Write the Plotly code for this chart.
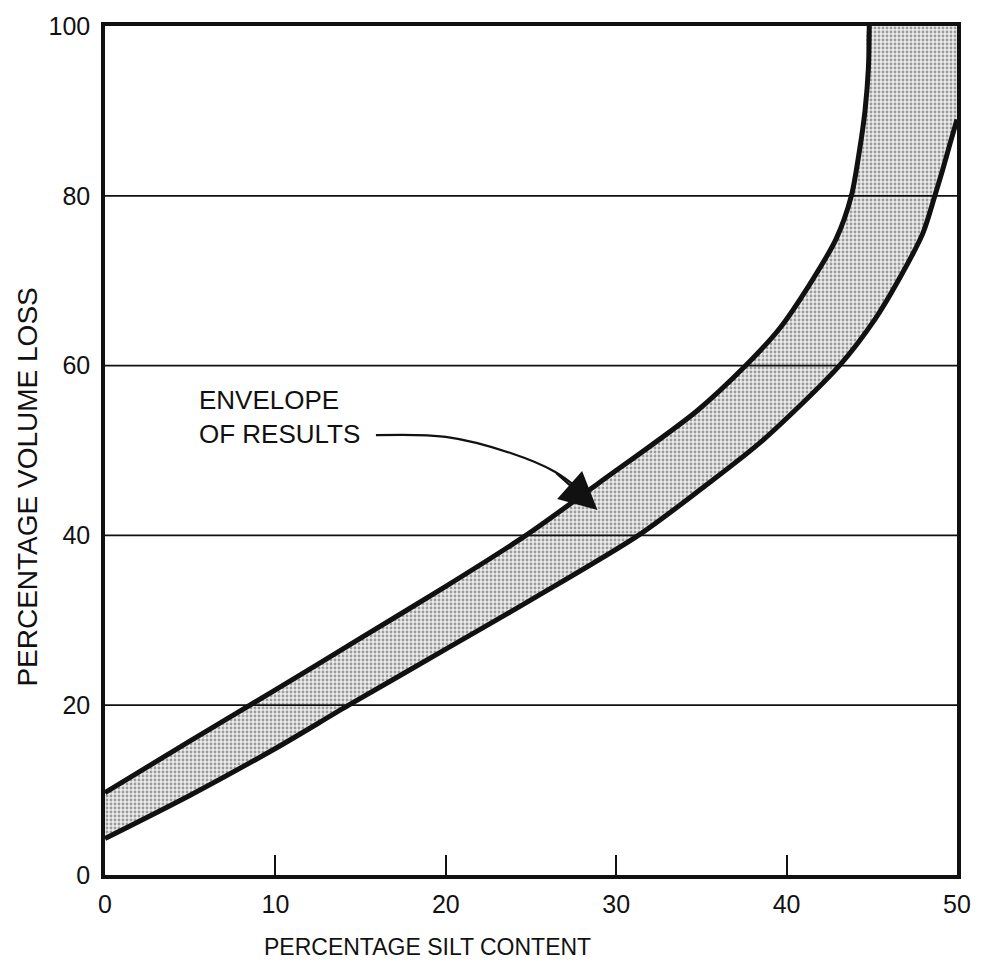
import plotly.graph_objects as go

# Envelope boundaries (percentage silt content, percentage volume loss)
upper_x = [0, 5, 10, 15, 20, 24.7, 29.0, 34.7, 37.6, 39.6, 41.3, 42.9, 43.8, 44.25, 44.6, 44.8, 44.85]
upper_y = [9.7, 15.8, 21.8, 27.9, 34.0, 40.0, 46.2, 54.6, 60.0, 64.4, 69.4, 74.9, 80.0, 85.0, 90.0, 95.0, 100.0]
lower_x = [0, 5, 10, 14.3, 20, 25, 31.3, 35.0, 38.6, 43.1, 45.2, 46.8, 48.0, 48.7, 49.15, 49.6, 50.0]
lower_y = [4.3, 9.4, 14.9, 20.0, 26.6, 32.4, 40.0, 45.5, 51.2, 60.0, 65.5, 70.9, 75.6, 80.0, 83.0, 86.2, 89.0]

x_ticks = [0, 10, 20, 30, 40, 50]
y_ticks = [0, 20, 40, 60, 80, 100]
grid_y = [20, 40, 60, 80]

label_text = "ENVELOPE<br>OF RESULTS"
arrow_x = [15.9, 20.0, 23.8, 26.4, 27.9]
arrow_y = [51.8, 51.6, 49.7, 47.5, 45.3]
arrow_tip = (28.9, 43.0)

FONT = "Liberation Sans, Arial, sans-serif"

fig = go.Figure()

# filled band: upper curve up, along top to corner, down right edge, lower curve back
poly_x = upper_x + [50, 50] + lower_x[::-1]
poly_y = upper_y + [100, lower_y[-1]] + lower_y[::-1]
fig.add_trace(go.Scatter(
    x=poly_x, y=poly_y, mode="lines", fill="toself",
    line=dict(width=0, color="rgba(0,0,0,0)", shape="spline", smoothing=0.8),
    fillcolor="#d2d2d2",
    fillpattern=dict(shape=".", size=4, solidity=0.4, fgcolor="#4a4a4a", bgcolor="#ececec"),
    hoverinfo="skip", showlegend=False))

# gridlines
for gy in grid_y:
    fig.add_trace(go.Scatter(x=[0, 50], y=[gy, gy], mode="lines",
                             line=dict(color="#111", width=1.8),
                             hoverinfo="skip", showlegend=False))

fig.add_trace(go.Scatter(x=upper_x, y=upper_y, mode="lines",
                         line=dict(color="#111", width=5, shape="spline", smoothing=0.8),
                         showlegend=False))
fig.add_trace(go.Scatter(x=lower_x, y=lower_y, mode="lines",
                         line=dict(color="#111", width=5, shape="spline", smoothing=0.8),
                         showlegend=False))

# curved arrow shaft
fig.add_trace(go.Scatter(x=arrow_x, y=arrow_y, mode="lines",
                         line=dict(color="#111", width=2.2, shape="spline"),
                         showlegend=False, hoverinfo="skip"))

fig.add_annotation(x=arrow_tip[0], y=arrow_tip[1], ax=arrow_x[-2], ay=arrow_y[-2],
                   xref="x", yref="y", axref="x", ayref="y", text="", showarrow=True,
                   arrowhead=2, arrowsize=3.4, arrowwidth=2.2, arrowcolor="#111")

fig.add_annotation(x=5.4, y=53.9, xref="x", yref="y", text=label_text, showarrow=False,
                   xanchor="left", yanchor="middle", align="left",
                   font=dict(family=FONT, size=26, color="#111"))

fig.add_annotation(x=0.378, y=-0.085, xref="paper", yref="paper", text="PERCENTAGE SILT CONTENT",
                   showarrow=False, xanchor="center", yanchor="middle",
                   font=dict(family=FONT, size=23, color="#111"))
fig.add_annotation(x=-0.092, y=0.457, xref="paper", yref="paper", text="PERCENTAGE VOLUME LOSS",
                   showarrow=False, xanchor="center", yanchor="middle", textangle=-90,
                   font=dict(family=FONT, size=28, color="#111"))

fig.update_xaxes(range=[0, 50], tickvals=x_ticks, ticktext=[str(v) for v in x_ticks],
                 showgrid=False, zeroline=False, showline=True, mirror=True,
                 linecolor="#111", linewidth=3.5, ticks="inside", ticklen=20, tickwidth=1.5,
                 tickcolor="#111", ticklabelstandoff=4, ticklabeloverflow="allow",
                 tickfont=dict(family=FONT, size=25, color="#111"))
fig.update_yaxes(range=[0, 100], tickvals=y_ticks, ticktext=[str(v) for v in y_ticks],
                 showgrid=False, zeroline=False, showline=True, mirror=True,
                 linecolor="#111", linewidth=3.5, ticks="", ticklen=0, ticklabelstandoff=6,
                 ticklabeloverflow="allow",
                 tickfont=dict(family=FONT, size=25, color="#111"))

fig.update_layout(width=983, height=968, margin=dict(l=105, r=20, t=18, b=93),
                  plot_bgcolor="white", paper_bgcolor="white", showlegend=False)

fig.write_html("out.html", config={"displayModeBar": False},
               post_script="document.body.style.margin='0';document.body.style.overflow='hidden';")
